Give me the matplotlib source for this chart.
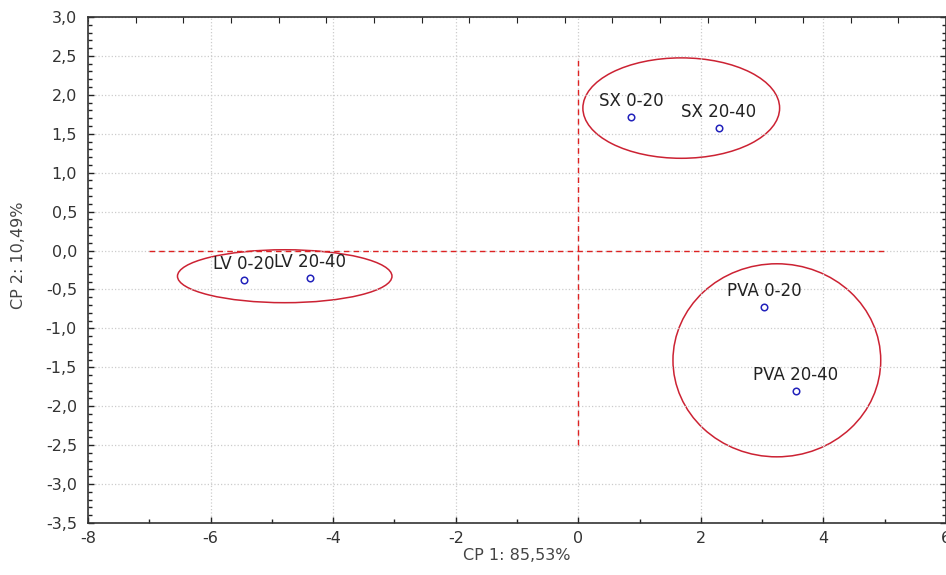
#!/usr/bin/env python3
import numpy as np
import matplotlib
matplotlib.use("Agg")
import matplotlib.pyplot as plt
from matplotlib.patches import Ellipse
from matplotlib.ticker import MultipleLocator, FuncFormatter

# sample scores on the first two principal components
names = ["LV 0-20", "LV 20-40", "SX 0-20", "SX 20-40", "PVA 0-20", "PVA 20-40"]
cp1 = [-5.46, -4.38, 0.86, 2.29, 3.03, 3.55]
cp2 = [-0.38, -0.35, 1.72, 1.57, -0.73, -1.81]

# group ellipses: centre x, centre y, width, height
ell_x = [-4.79, 1.68, 3.24]
ell_y = [-0.33, 1.83, -1.41]
ell_w = [3.50, 3.21, 3.39]
ell_h = [0.68, 1.29, 2.48]

x_ticks = [-8, -6, -4, -2, 0, 2, 4, 6]
y_ticks = [3.0, 2.5, 2.0, 1.5, 1.0, 0.5, 0.0, -0.5, -1.0, -1.5, -2.0, -2.5, -3.0, -3.5]


def main():
    plt.rcParams["font.family"] = ["DejaVu Sans"]
    fig = plt.figure(figsize=(9.46, 5.75), dpi=100)
    ax = fig.add_axes([88 / 946, 52 / 575, 858 / 946, 506 / 575])

    ax.set_xlim(-8, 6)
    ax.set_ylim(-3.5, 3.0)
    ax.set_xticks(x_ticks)
    ax.set_yticks(y_ticks)
    ax.xaxis.set_minor_locator(MultipleLocator(1))
    ax.yaxis.set_minor_locator(MultipleLocator(0.1))
    ax.xaxis.set_major_formatter(FuncFormatter(lambda v, p: "{0:d}".format(int(round(v)))))
    ax.yaxis.set_major_formatter(FuncFormatter(lambda v, p: "{0:.1f}".format(v).replace(".", ",")))
    ax.tick_params(which="both", direction="in", right=True, color="#222222",
                   labelsize=11.5, labelcolor="#333333")
    ax.tick_params(which="major", length=4, width=1)
    ax.tick_params(which="minor", length=3, width=1)
    ax.tick_params(axis="x", which="both", top=False, pad=6)
    ax.tick_params(axis="y", which="both", pad=8)

    # faint top scale
    top = ax.secondary_xaxis("top")
    top.set_xticks(np.linspace(-8, 6, 19))
    top.set_xticklabels([])
    top.tick_params(direction="in", length=4, color="#222222")

    for s in ax.spines.values():
        s.set_color("#333333")
        s.set_linewidth(1.2)
    top.spines["top"].set_visible(False)

    ax.grid(True, which="major", color="#cccccc", linestyle=":", linewidth=0.9)

    ax.plot([-7, 5], [0, 0], color="#dd2222", linestyle="--", linewidth=1, dashes=(4, 3))
    ax.plot([0, 0], [-2.5, 2.5], color="#dd2222", linestyle="--", linewidth=1, dashes=(4, 3))

    for ex, ey, ew, eh in zip(ell_x, ell_y, ell_w, ell_h):
        ax.add_patch(Ellipse((ex, ey), ew, eh, fill=False, edgecolor="#cc2233", linewidth=1.1))

    ax.scatter(cp1, cp2, s=22, facecolors="white", edgecolors="#2222bb", linewidths=1.1, zorder=5)
    for n, x, y in zip(names, cp1, cp2):
        ax.annotate(n, (x, y), xytext=(0, 5), textcoords="offset points",
                    ha="center", va="bottom", fontsize=12, color="#222222")

    ax.set_xlabel("CP 1: 85,53%", fontsize=11.5, color="#444444")
    ax.set_ylabel("CP 2: 10,49%", fontsize=11.5, color="#444444")
    ax.xaxis.set_label_coords(0.5, -0.05)
    ax.yaxis.set_label_coords(-0.072, 0.53)

    fig.savefig("out.png", dpi=100)


if __name__ == "__main__":
    main()
